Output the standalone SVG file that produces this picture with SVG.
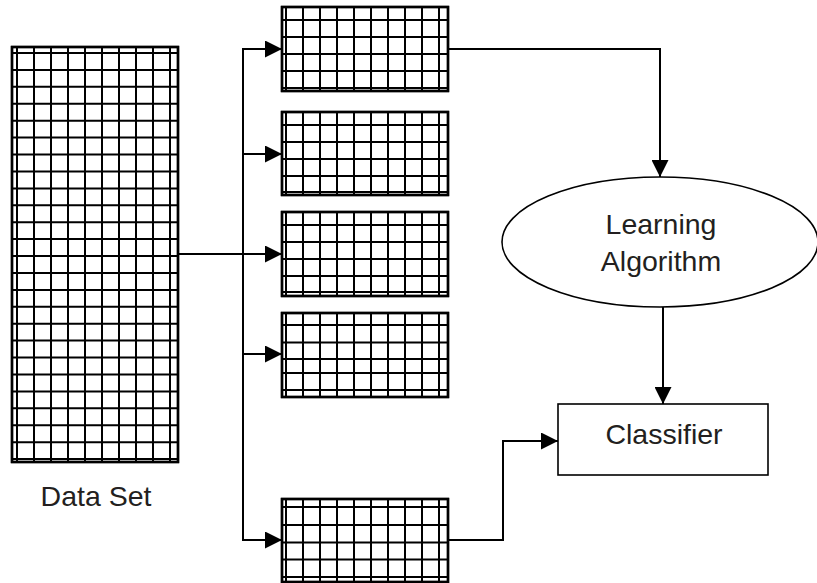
<svg xmlns="http://www.w3.org/2000/svg" width="817" height="583" viewBox="0 0 817 583">
  <style>
    .grid { fill: none; stroke: #000; stroke-width: 2; }
    .frame { fill: #fff; stroke: #000; stroke-width: 2.4; }
    .edge { fill: none; stroke: #000; stroke-width: 2.4; }
    .wire { fill: none; stroke: #000; stroke-width: 2; }
    .shape { fill: #fff; stroke: #000; stroke-width: 1.6; }
    .label { font-family: "Liberation Sans", Arial, sans-serif; font-size: 28.5px; fill: #231f20; text-anchor: middle; }
  </style>
  <defs>
    <marker id="arrow" markerUnits="userSpaceOnUse" viewBox="0 0 17 17" markerWidth="17" markerHeight="17" refX="17" refY="8.5" orient="auto">
      <path d="M0,0 L17,8.5 L0,17 z" fill="#000"/>
    </marker>
    <!-- vertical rulings shared by every subset table -->
    <path id="subset-cols" d="M286 0V84M303 0V84M320 0V84M337 0V84M354 0V84M371 0V84M388 0V84M405 0V84M422 0V84M439 0V84"/>
  </defs>

  <rect width="817" height="583" fill="#fff"/>

  <!-- full data set table -->
  <g id="dataset">
    <rect class="frame" x="12" y="47" width="166" height="415"/>
    <path class="grid" d="M17 47V462M34 47V462M51 47V462M68 47V462M85 47V462M102 47V462M119 47V462M136 47V462M153 47V462M170 47V462"/>
    <path class="grid" d="M12 53H178M12 69.9H178M12 86.8H178M12 103.8H178M12 120.7H178M12 137.6H178M12 154.5H178M12 171.4H178M12 188.4H178M12 205.3H178M12 222.2H178M12 239.1H178M12 256H178M12 273H178M12 289.9H178M12 306.8H178M12 323.7H178M12 340.6H178M12 357.6H178M12 374.5H178M12 391.4H178M12 408.3H178M12 425.2H178M12 442.2H178M12 459.1H178"/>
    <rect class="edge" x="12" y="47" width="166" height="415"/>
    <text class="label" x="96" y="506">Data Set</text>
  </g>

  <!-- subset tables -->
  <g id="subset1">
    <rect class="frame" x="282" y="7" width="166" height="84"/>
    <use href="#subset-cols" class="grid" y="7"/>
    <path class="grid" d="M282 20H448M282 37H448M282 54H448M282 71H448M282 88H448"/>
    <rect class="edge" x="282" y="7" width="166" height="84"/>
  </g>
  <g id="subset2">
    <rect class="frame" x="282" y="112" width="166" height="83"/>
    <use href="#subset-cols" class="grid" y="112"/>
    <path class="grid" d="M282 125H448M282 142H448M282 159H448M282 176H448M282 192H448"/>
    <rect class="edge" x="282" y="112" width="166" height="83"/>
  </g>
  <g id="subset3">
    <rect class="frame" x="282" y="212" width="166" height="84"/>
    <use href="#subset-cols" class="grid" y="212"/>
    <path class="grid" d="M282 225H448M282 242H448M282 259H448M282 276H448M282 292H448"/>
    <rect class="edge" x="282" y="212" width="166" height="84"/>
  </g>
  <g id="subset4">
    <rect class="frame" x="282" y="313" width="166" height="84"/>
    <use href="#subset-cols" class="grid" y="313"/>
    <path class="grid" d="M282 325H448M282 342.5H448M282 359H448M282 373H448M282 390H448"/>
    <rect class="edge" x="282" y="313" width="166" height="84"/>
  </g>
  <g id="subset5">
    <rect class="frame" x="282" y="499" width="166" height="83"/>
    <use href="#subset-cols" class="grid" y="499"/>
    <path class="grid" d="M282 507H448M282 525H448M282 542.5H448M282 559.5H448M282 577H448"/>
    <rect class="edge" x="282" y="499" width="166" height="83"/>
  </g>

  <!-- learner -->
  <g id="learning-algorithm">
    <ellipse class="shape" cx="660" cy="242" rx="158" ry="65"/>
    <text class="label" x="661" y="234">Learning</text>
    <text class="label" x="661" y="271">Algorithm</text>
  </g>

  <g id="classifier">
    <rect class="shape" x="558" y="404" width="210" height="71"/>
    <text class="label" x="664" y="444">Classifier</text>
  </g>

  <!-- connectors -->
  <g id="connectors">
    <path class="wire" d="M178 254H243"/>
    <path class="wire" d="M243 49V540"/>
    <path class="wire" d="M242 49H282" marker-end="url(#arrow)"/>
    <path class="wire" d="M243 154H282" marker-end="url(#arrow)"/>
    <path class="wire" d="M243 254H282" marker-end="url(#arrow)"/>
    <path class="wire" d="M243 354H282" marker-end="url(#arrow)"/>
    <path class="wire" d="M242 540H282" marker-end="url(#arrow)"/>
    <path class="wire" d="M448 49H660V177" marker-end="url(#arrow)"/>
    <path class="wire" d="M663 307V404" marker-end="url(#arrow)"/>
    <path class="wire" d="M448 540H503V441H558" marker-end="url(#arrow)"/>
  </g>
</svg>
